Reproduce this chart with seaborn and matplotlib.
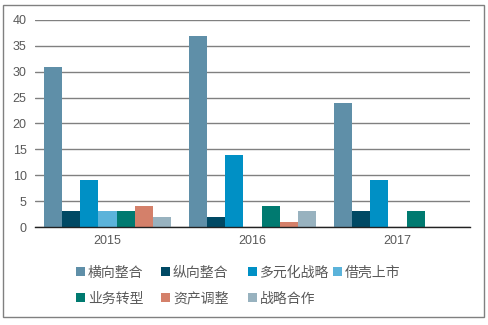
import matplotlib
matplotlib.use("Agg")
import matplotlib.pyplot as plt
import seaborn as sns
import pandas as pd
from matplotlib.patches import Rectangle

years = ["2015", "2016", "2017"]
series = ["横向整合", "纵向整合", "多元化战略", "借壳上市", "业务转型", "资产调整", "战略合作"]
values = {
    "横向整合": [31, 37, 24],
    "纵向整合": [3, 2, 3],
    "多元化战略": [9, 14, 9],
    "借壳上市": [3, 0, 0],
    "业务转型": [3, 4, 3],
    "资产调整": [4, 1, 0],
    "战略合作": [2, 3, 0],
}
colors = ["#5F8FA8", "#004964", "#0090C5", "#5BB3DA", "#007A70", "#D4806A", "#98B2BF"]

rows = []
for s in series:
    for y, v in zip(years, values[s]):
        rows.append({"year": y, "type": s, "count": v})
df = pd.DataFrame(rows)

sns.set_theme(style="white")
plt.rcParams["font.family"] = ["Noto Sans CJK SC", "DejaVu Sans"]

fig = plt.figure(figsize=(4.88, 3.25), dpi=100)
fig.patch.set_facecolor("white")
fig.add_artist(Rectangle((3 / 488, 8 / 325), 481 / 488, 312 / 325, transform=fig.transFigure,
                         fill=False, edgecolor="#808080", linewidth=1.0))

ax = fig.add_axes([35 / 488, 98 / 325, 435 / 488, 207 / 325])
sns.barplot(data=df, x="year", y="count", hue="type", hue_order=series, order=years,
            palette=colors, width=0.875, saturation=1, linewidth=0, ax=ax, legend=False)

ax.set_ylim(0, 40)
ax.set_yticks(range(0, 41, 5))
ax.set_xlim(-0.5, 2.5)
ax.yaxis.grid(True, color="#808080", linewidth=1.0)
ax.set_axisbelow(True)
for side in ["left", "right", "top"]:
    ax.spines[side].set_visible(False)
ax.spines["bottom"].set_color("#222222")
ax.spines["bottom"].set_linewidth(1.0)
ax.set_xlabel("")
ax.set_ylabel("")
ax.tick_params(axis="both", length=0, labelsize=9, colors="#595959", pad=6)
ax.tick_params(axis="x", pad=6)
for lbl in ax.get_xticklabels() + ax.get_yticklabels():
    lbl.set_fontfamily(["Liberation Sans", "DejaVu Sans"])

# Legend laid out as a fixed-width grid, four entries per row
col_x = [76, 161, 248, 333]
row_y = [271, 297]
for i, (name, c) in enumerate(zip(series, colors)):
    r, k = divmod(i, 4)
    x0, yc = col_x[k], row_y[r]
    fig.add_artist(Rectangle((x0 / 488, 1 - (yc + 4.5) / 325), 9 / 488, 9 / 325,
                             transform=fig.transFigure, facecolor=c, edgecolor="none"))
    fig.text((x0 + 12) / 488, 1 - yc / 325, name, fontsize=10, color="#595959",
             ha="left", va="center_baseline")

fig.savefig("out.png", dpi=100, facecolor="white")
